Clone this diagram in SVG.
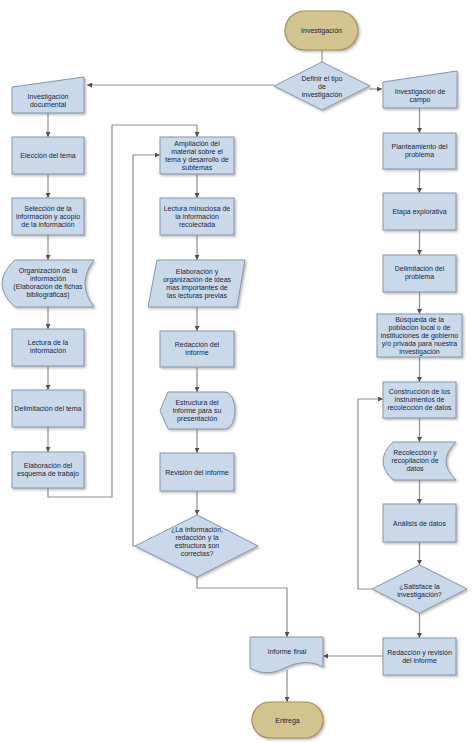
<svg xmlns="http://www.w3.org/2000/svg" width="474" height="743" viewBox="0 0 474 743">
<defs>
<style>
.n{fill:#c9d9ea;stroke:#8797ab;stroke-width:1;filter:url(#sh)}
.t{fill:#d3c38f;stroke:#a3925e;stroke-width:1.2;filter:url(#sh)}
.c{fill:none;stroke:#8e8e8e;stroke-width:1.2}
.a{marker-end:url(#ar)}
text{font-family:"Liberation Sans",Arial,sans-serif;font-size:7px;fill:#18253a;text-anchor:middle}
</style>
<filter id="sh" x="-10%" y="-10%" width="130%" height="130%">
<feDropShadow dx="1.5" dy="1.5" stdDeviation="0.8" flood-color="#666" flood-opacity="0.45"/>
</filter>
<marker id="ar" viewBox="0 0 6 6" refX="6" refY="3" markerWidth="5" markerHeight="5" markerUnits="userSpaceOnUse" orient="auto">
<path d="M0,0 L6,3 L0,6 Z" fill="#505050"/>
</marker>
</defs>
<rect width="474" height="743" fill="#ffffff"/>

<g id="connectors">
<path class="c" d="M322,50 V62"/>
<path class="c a" d="M274,85 H87"/>
<path class="c a" d="M370,89 H382"/>
<path class="c a" d="M48,113 V137"/>
<path class="c a" d="M48,174 V198"/>
<path class="c a" d="M48,235 V260"/>
<path class="c a" d="M48,307 V329"/>
<path class="c a" d="M48,366 V390"/>
<path class="c a" d="M48,427 V452"/>
<path class="c a" d="M48,488 V497 H112 V125 H197 V137"/>
<path class="c a" d="M197,174 V198"/>
<path class="c a" d="M197,235 V260"/>
<path class="c a" d="M197,307 V331"/>
<path class="c a" d="M197,367 V392"/>
<path class="c a" d="M197,429 V453"/>
<path class="c a" d="M197,491 V515"/>
<path class="c a" d="M135,546 H133 V155 H160"/>
<path class="c a" d="M197,577 V588 H287 V637"/>
<path class="c a" d="M287,670 V702"/>
<path class="c a" d="M419.5,108 V133"/>
<path class="c a" d="M419.5,169 V193"/>
<path class="c a" d="M419.5,230 V255"/>
<path class="c a" d="M419.5,292 V314"/>
<path class="c a" d="M419.5,357 V382"/>
<path class="c a" d="M419.5,418 V442"/>
<path class="c a" d="M419.5,480 V504"/>
<path class="c a" d="M419.5,542 V565"/>
<path class="c a" d="M419.5,613 V638"/>
<path class="c a" d="M372,589 H358 V399 H383"/>
<path class="c a" d="M383,656 H323"/>
</g>

<g id="n-inicio"><rect class="t" x="285" y="11" width="73" height="39" rx="19.5"/><text x="321.5" y="33">Investigación</text></g>
<g id="n-definir"><polygon class="n" points="322,62 370,86 322,110 274,86"/><text x="322" y="80.5">Definir el tipo</text><text x="322" y="88.5">de</text><text x="322" y="96.5">investigación</text></g>

<g id="n-doc"><polygon class="n" points="12,87 84,77 84,113 12,113"/><text x="48" y="99">Investigación</text><text x="48" y="107">documental</text></g>
<g id="n-eleccion"><rect class="n" x="12" y="137" width="72" height="37"/><text x="48" y="158">Elección  del tema</text></g>
<g id="n-seleccion"><rect class="n" x="12" y="198" width="72" height="37"/><text x="48" y="211">Selección de  la</text><text x="48" y="219">información y acopio</text><text x="48" y="227">de la información</text></g>
<g id="n-organizacion"><path class="n" d="M15,260 H94 Q76,283.5 94,307 H15 Q-11,283.5 15,260 Z"/><text x="48" y="273">Organización de la</text><text x="48" y="281">información</text><text x="48" y="289">(Elaboración de fichas</text><text x="48" y="297">bibliográficas)</text></g>
<g id="n-lectura"><rect class="n" x="12" y="329" width="72" height="37"/><text x="48" y="345">Lectura de la</text><text x="48" y="353">información</text></g>
<g id="n-delimtema"><rect class="n" x="12" y="390" width="72" height="37"/><text x="48" y="411">Delimitación del tema</text></g>
<g id="n-esquema"><rect class="n" x="12" y="452" width="72" height="36"/><text x="48" y="468">Elaboración del</text><text x="48" y="476">esquema de trabajo</text></g>

<g id="n-ampliacion"><rect class="n" x="160" y="137" width="74" height="37"/><text x="197" y="146">Ampliación del</text><text x="197" y="154">material sobre el</text><text x="197" y="162">tema y desarrollo de</text><text x="197" y="170">subtemas</text></g>
<g id="n-minuciosa"><rect class="n" x="160" y="198" width="74" height="37"/><text x="197" y="211">Lectura minuciosa de</text><text x="197" y="219">la información</text><text x="197" y="227">recolectada</text></g>
<g id="n-ideas"><polygon class="n" points="157,260 245,260 237,307 148,307"/><text x="197" y="274">Elaboración y</text><text x="197" y="282">organización de ideas</text><text x="197" y="290">mas importantes de</text><text x="197" y="298">las lecturas previas</text></g>
<g id="n-redaccion"><rect class="n" x="160" y="331" width="74" height="36"/><text x="197" y="347">Redacción del</text><text x="197" y="355">informe</text></g>
<g id="n-estructura"><path class="n" d="M168,392 H225 A10,18.5 0 0 1 225,429 H168 L160,410.5 Z"/><text x="197" y="405">Estructura del</text><text x="197" y="413">informe para su</text><text x="197" y="421">presentación</text></g>
<g id="n-revision"><rect class="n" x="160" y="453" width="74" height="38"/><text x="197" y="474.5">Revisión del informe</text></g>
<g id="n-correctas"><polygon class="n" points="197,515 258,546 197,577 135,546"/><text x="197" y="532">¿La información,</text><text x="197" y="540">redacción y la</text><text x="197" y="548">estructura son</text><text x="197" y="556">correctas?</text></g>

<g id="n-informefinal"><path class="n" d="M250,637 H323 V667 C312,661 300,661 287,667 C274,674 262,675 250,668 Z"/><text x="287" y="653.5">Informe final</text></g>
<g id="n-entrega"><rect class="t" x="252" y="702" width="71" height="36" rx="18"/><text x="287.5" y="722.5">Entrega</text></g>

<g id="n-campo"><polygon class="n" points="383,82 457,71 457,108 383,108"/><text x="420" y="94">Investigación de</text><text x="420" y="102">campo</text></g>
<g id="n-planteamiento"><rect class="n" x="383" y="133" width="73" height="36"/><text x="419.5" y="149">Planteamiento del</text><text x="419.5" y="157">problema</text></g>
<g id="n-etapa"><rect class="n" x="383" y="193" width="73" height="37"/><text x="419.5" y="213.5">Etapa explorativa</text></g>
<g id="n-delimproblema"><rect class="n" x="383" y="255" width="73" height="37"/><text x="419.5" y="271">Delimitación del</text><text x="419.5" y="279">problema</text></g>
<g id="n-busqueda"><rect class="n" x="377" y="314" width="85" height="43"/><text x="419.5" y="322">Búsqueda de la</text><text x="419.5" y="330">población local o de</text><text x="419.5" y="338">instituciones de gobierno</text><text x="419.5" y="346">y/o privada para nuestra</text><text x="419.5" y="354">investigación</text></g>
<g id="n-construccion"><rect class="n" x="383" y="382" width="73" height="36"/><text x="419.5" y="394">Construcción de los</text><text x="419.5" y="402">instrumentos de</text><text x="419.5" y="410">recolección de datos</text></g>
<g id="n-recoleccion"><path class="n" d="M393,442 H456 Q436,461 456,480 H393 Q373,461 393,442 Z"/><text x="415" y="455">Recolección y</text><text x="415" y="463">recopilación de</text><text x="415" y="471">datos</text></g>
<g id="n-analisis"><rect class="n" x="383" y="504" width="73" height="38"/><text x="419.5" y="525.5">Análisis de datos</text></g>
<g id="n-satisface"><polygon class="n" points="419.5,565 467,589 419.5,613 372,589"/><text x="419.5" y="589">¿Satisface la</text><text x="419.5" y="597">investigación?</text></g>
<g id="n-redrev"><rect class="n" x="383" y="638" width="73" height="37"/><text x="419.5" y="655">Redacción y revisión</text><text x="419.5" y="663">del informe</text></g>
</svg>
